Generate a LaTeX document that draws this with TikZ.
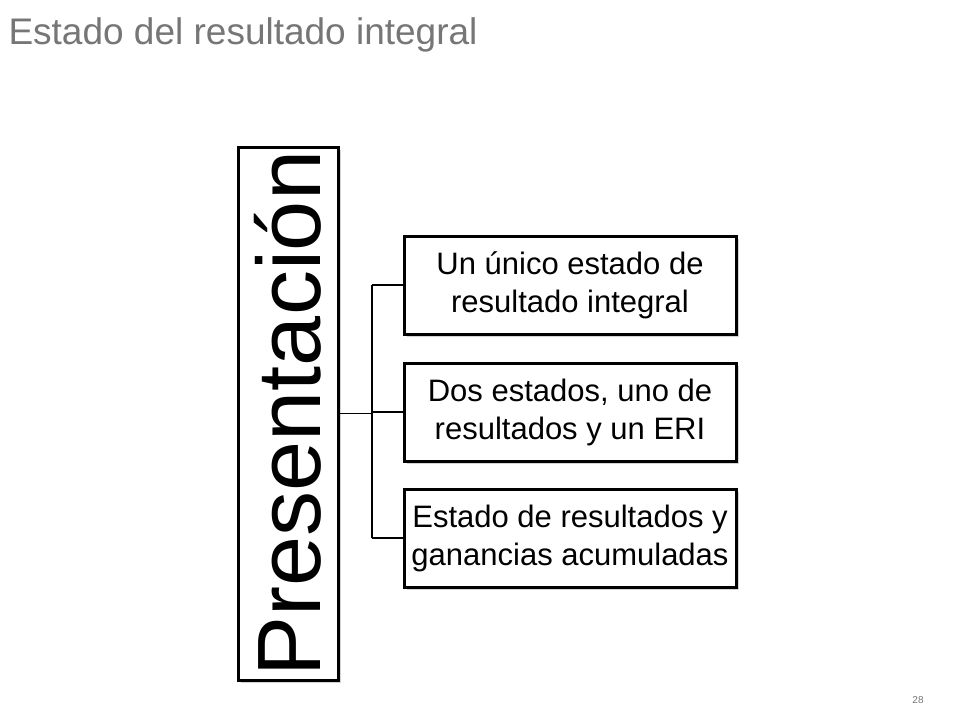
\documentclass[tikz,border=0pt]{standalone}
\usepackage{fontspec}
\setmainfont{Liberation Sans}
\usetikzlibrary{shadows,calc}
\definecolor{titlegray}{RGB}{118,118,118}
\tikzset{
  itembox/.style={draw=black, line width=3pt, fill=white, minimum width=332pt,
    minimum height=98pt, align=center, inner sep=0pt, font=\fontsize{31}{38}\selectfont,
    drop shadow={shadow xshift=3pt, shadow yshift=-3pt, opacity=0.35}},
  rootbox/.style={draw=black, line width=3pt, fill=white, rotate=90,
    minimum width=533pt, minimum height=100pt, inner sep=0pt,
    font=\fontsize{90}{90}\selectfont,
    drop shadow={shadow xshift=3pt, shadow yshift=-3pt, opacity=0.35}},
  link/.style={draw=black, line width=1.5pt}
}
\begin{document}
\begin{tikzpicture}[x=1pt,y=-1pt]
  \useasboundingbox (0,0) rectangle (960,720);
  \node[anchor=west, text=titlegray, font=\fontsize{37}{44}\selectfont] (title) at (5,35) {Estado del resultado integral};
  \node[rootbox] (root) at (288,413.5) {Presentación};
  \node[itembox] (a) at (570,285) {Un único estado de\\resultado integral};
  \node[itembox] (b) at (570,412) {Dos estados, uno de\\resultados y un ERI};
  \node[itembox] (c) at (570,538) {Estado de resultados y\\ganancias acumuladas};
  \coordinate (fork) at (372,0);
  \draw[link] (root.south) -- (fork |- root.south);
  \draw[link] (fork |- a.west) -- (fork |- c.west);
  \draw[link] (fork |- a.west) -- (a.west);
  \draw[link] (fork |- b.west) -- (b.west);
  \draw[link] (fork |- c.west) -- (c.west);
  \node[text=titlegray, font=\fontsize{10}{10}\selectfont] (page) at (918,700) {28};
\end{tikzpicture}
\end{document}
